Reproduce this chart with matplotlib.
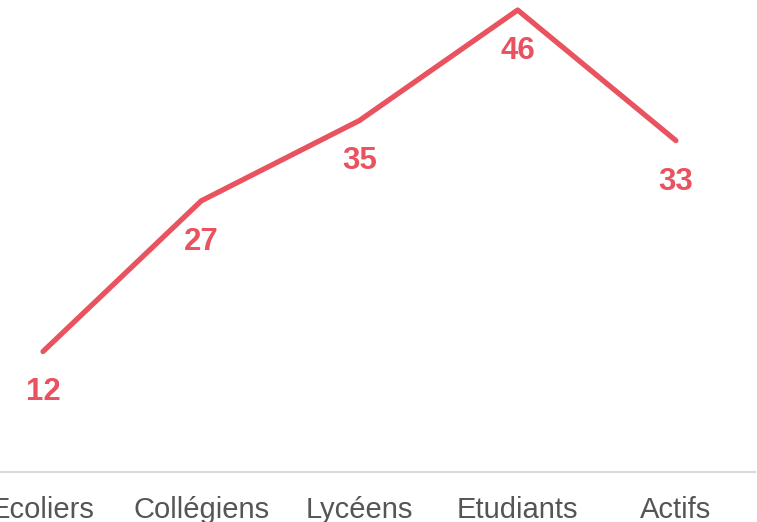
import matplotlib
matplotlib.use('Agg')
import matplotlib.pyplot as plt

plt.rcParams['font.family'] = ['Liberation Sans', 'DejaVu Sans']

# données
categories = ['Ecoliers', 'Collégiens', 'Lycéens', 'Etudiants', 'Actifs']
values = [12, 27, 35, 46, 33]

line_color = '#e9525f'
text_color = '#555555'

fig = plt.figure(figsize=(7.57, 5.22), dpi=100)
ax = fig.add_axes([0, 50 / 522, 755 / 757, 472 / 522])

x = list(range(len(categories)))
ax.plot(x, values, color=line_color, linewidth=3.8,
        solid_capstyle='round', solid_joinstyle='round')

for xi, v in zip(x, values):
    ax.annotate(str(v), (xi, v), xytext=(0, -29.5), textcoords='offset points',
                ha='center', va='center', fontsize=22.5, fontweight='bold',
                color=line_color)

ax.set_xlim(-0.272, 4.5)
ax.set_ylim(0, 47)
ax.set_xticks(x)
ax.set_xticklabels(categories, fontsize=21, color=text_color)
ax.set_yticks([])
ax.tick_params(axis='x', length=0, pad=17)

for side in ['top', 'right', 'left']:
    ax.spines[side].set_visible(False)
ax.spines['bottom'].set_color('#d9d9d9')
ax.spines['bottom'].set_linewidth(1.5)

fig.savefig('out.png', dpi=100)
